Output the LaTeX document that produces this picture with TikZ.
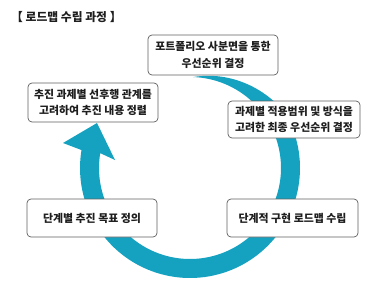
\documentclass[tikz,border=0pt]{standalone}
\usepackage{fontspec}
\setmainfont{Noto Sans CJK KR}
\definecolor{ringc}{RGB}{20,162,192}
\definecolor{boxgray}{RGB}{95,95,95}
\definecolor{textc}{RGB}{30,30,30}
\begin{document}
\begin{tikzpicture}[x=1pt,y=-1pt,
  declare function={tw(\t)=19*min(1,(\t+88)/58);},
  box/.style={draw=boxgray, line width=0.7pt, rounded corners=4pt, fill=white,
    align=center, text=textc, inner sep=0pt,
    font=\fontsize{10.9}{16.5}\selectfont\bfseries},
]
\useasboundingbox (0,0) rectangle (369,284);
% circular arrow
\fill[ringc]
  plot[domain=-88:189.4, samples=120] ({190+(91+tw(\x))*cos(\x)}, {168+(91+tw(\x))*sin(\x)})
  -- (63,143) -- (97,123) -- (115,160)
  -- plot[domain=189.4:-88, samples=120] ({190+91*cos(\x)}, {168+91*sin(\x)})
  -- cycle;
% title
\node[anchor=west, text=textc, inner sep=0pt, font=\fontsize{11.8}{13}\selectfont\bfseries] (title) at (11,17) {【 로드맵 수립 과정 】};
% boxes
\node[box, minimum width=130, minimum height=40] (top) at (213,55) {포트폴리오 사분면을 통한\\우선순위 결정};
\node[box, minimum width=132, minimum height=37] (right) at (294,119.5) {과제별 적용범위 및 방식을\\고려한 최종 우선순위 결정};
\node[box, minimum width=130, minimum height=39] (left) at (93,102.5) {추진 과제별 선후행 관계를\\고려하여 추진 내용 정렬};
\node[box, minimum width=130, minimum height=38] (bl) at (92,218) {단계별 추진 목표 정의};
\node[box, minimum width=131, minimum height=38] (br) at (292.5,218) {단계적 구현 로드맵 수립};
\end{tikzpicture}
\end{document}
